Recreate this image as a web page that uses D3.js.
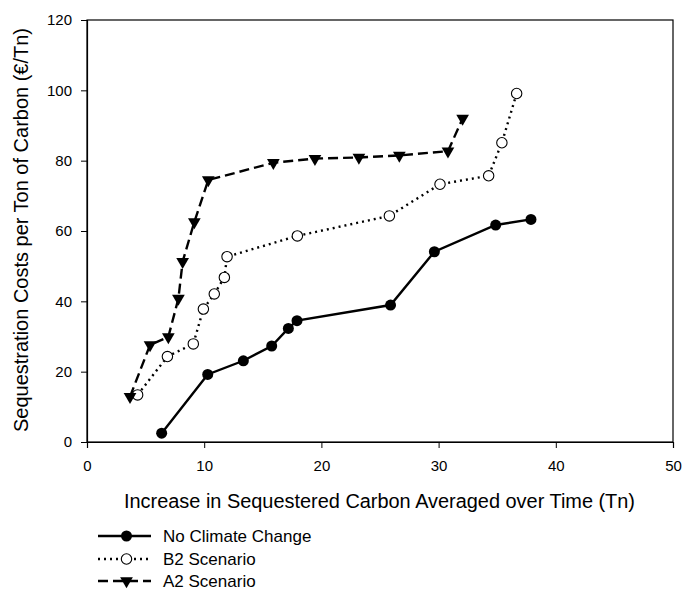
<!DOCTYPE html>
<html><head><meta charset="utf-8">
<script src="https://cdn.jsdelivr.net/npm/d3@7"></script>
<style>body{margin:0;background:#fff;}svg{display:block;font-family:"Liberation Sans",Arial,sans-serif;}</style>
</head><body>
<svg id="c" width="682" height="590"></svg>
<script>
const noClimateX = [6.37, 10.3, 13.34, 15.76, 17.18, 17.92, 25.9, 29.64, 34.87, 37.88];
const noClimateY = [2.5, 19.2, 23.1, 27.3, 32.3, 34.5, 38.95, 54.1, 61.7, 63.3];
const b2X = [4.32, 6.86, 9.07, 9.93, 10.86, 11.72, 11.95, 17.95, 25.8, 30.12, 34.27, 35.4, 36.66];
const b2Y = [13.4, 24.3, 27.9, 37.8, 42.1, 46.8, 52.7, 58.6, 64.3, 73.3, 75.7, 85.1, 99.1];
const a2X = [3.67, 5.38, 6.94, 7.8, 8.16, 9.16, 10.35, 15.9, 19.45, 23.2, 26.65, 30.8, 32.05];
const a2Y = [12.9, 27.6, 29.9, 40.8, 51.3, 62.6, 74.5, 79.4, 80.6, 80.9, 81.5, 82.7, 92.0];
const xTicks = [0, 10, 20, 30, 40, 50];
const yTicks = [0, 20, 40, 60, 80, 100, 120];
const seriesNames = ["No Climate Change", "B2 Scenario", "A2 Scenario"];

const svg = d3.select("#c");
const L = 87, R = 673, T = 20, B = 442;
const x = d3.scaleLinear().domain([0, 50]).range([L, R]);
const y = d3.scaleLinear().domain([0, 120]).range([B, T]);

const series = [
  {name: seriesNames[0], xs: noClimateX, ys: noClimateY, dash: null, marker: "fill"},
  {name: seriesNames[1], xs: b2X, ys: b2Y, dash: "2,4", marker: "open"},
  {name: seriesNames[2], xs: a2X, ys: a2Y, dash: "10,5", marker: "tri"}
];

// frame
svg.append("rect").attr("x", L).attr("y", T).attr("width", R - L).attr("height", B - T)
  .attr("fill", "none").attr("stroke", "#000").attr("stroke-width", 1.2);

const xAxis = svg.append("g").attr("transform", `translate(0,${B})`)
  .call(d3.axisBottom(x).tickValues(xTicks).tickSize(6).tickPadding(12).tickFormat(d3.format("d")));
const yAxis = svg.append("g").attr("transform", `translate(${L},0)`)
  .call(d3.axisLeft(y).tickValues(yTicks).tickSize(6).tickPadding(9).tickFormat(d3.format("d")));
[xAxis, yAxis].forEach(g => {
  g.select(".domain").attr("stroke", "#000").attr("stroke-width", 1.2);
  g.selectAll(".tick line").attr("stroke", "#000").attr("stroke-width", 1);
  g.selectAll("text").attr("font-size", 15).attr("fill", "#000")
    .attr("font-family", "'Liberation Sans',Arial,sans-serif");
});

svg.append("text").attr("x", 379.5).attr("y", 508).attr("text-anchor", "middle")
  .attr("font-size", 20).attr("textLength", 511).attr("lengthAdjust", "spacingAndGlyphs")
  .text("Increase in Sequestered Carbon Averaged over Time (Tn)");
svg.append("text").attr("transform", `translate(28,230) rotate(-90)`).attr("text-anchor", "middle")
  .attr("font-size", 20).attr("textLength", 404).attr("lengthAdjust", "spacingAndGlyphs")
  .text("Sequestration Costs per Ton of Carbon (€/Tn)");

const tri = d3.symbol().type(d3.symbolTriangle).size(70);
function drawMarker(g, type, cx, cy) {
  if (type === "fill") g.append("circle").attr("cx", cx).attr("cy", cy).attr("r", 5.5).attr("fill", "#000");
  else if (type === "open") g.append("circle").attr("cx", cx).attr("cy", cy).attr("r", 5.2)
    .attr("fill", "#fff").attr("stroke", "#000").attr("stroke-width", 1.1);
  else g.append("path").attr("d", tri).attr("transform", `translate(${cx},${cy}) rotate(180)`).attr("fill", "#000");
}

const line = d3.line().x(d => x(d[0])).y(d => y(d[1]));
series.forEach(s => {
  const pts = s.xs.map((v, i) => [v, s.ys[i]]);
  const p = svg.append("path").datum(pts).attr("d", line).attr("fill", "none")
    .attr("stroke", "#000").attr("stroke-width", 2.4);
  if (s.dash) p.attr("stroke-dasharray", s.dash);
  const g = svg.append("g");
  pts.forEach(d => drawMarker(g, s.marker, x(d[0]), y(d[1])));
});

// legend
const legY = [536, 559, 581];
series.forEach((s, i) => {
  const g = svg.append("g");
  const ln = g.append("line").attr("x1", 98).attr("x2", 151).attr("y1", legY[i]).attr("y2", legY[i])
    .attr("stroke", "#000").attr("stroke-width", 2.4);
  if (s.dash) ln.attr("stroke-dasharray", s.dash);
  drawMarker(g, s.marker, 126.5, legY[i]);
  g.append("text").attr("x", 163).attr("y", legY[i] + 6).attr("font-size", 17).text(s.name);
});
</script>
</body></html>
